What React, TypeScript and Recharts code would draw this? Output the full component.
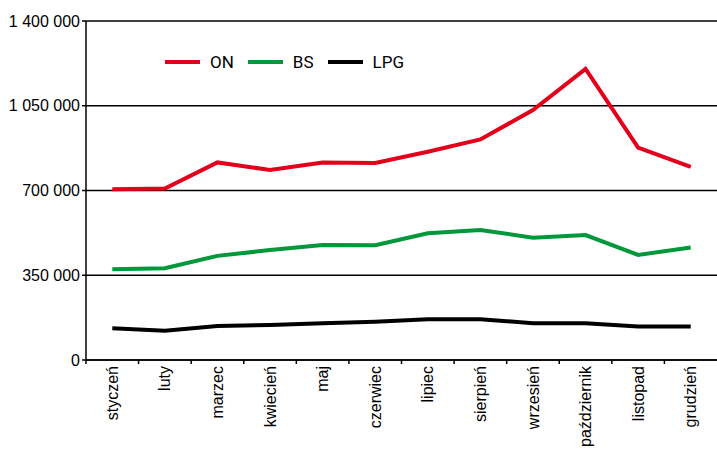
import { CartesianGrid, Legend, Line, LineChart, XAxis, YAxis } from 'recharts'

const months = [
  'styczeń', 'luty', 'marzec', 'kwiecień', 'maj', 'czerwiec',
  'lipiec', 'sierpień', 'wrzesień', 'październik', 'listopad', 'grudzień'
]

const onValues = [705000, 708000, 816000, 785000, 816000, 814000, 860000, 911000, 1032000, 1202000, 877000, 798000]
const bsValues = [375000, 379000, 430000, 454000, 475000, 474000, 523000, 537000, 505000, 516000, 434000, 465000]
const lpgValues = [131000, 121000, 140000, 145000, 152000, 158000, 168000, 168000, 152000, 152000, 138000, 138000]

const yTicks = [0, 350000, 700000, 1050000, 1400000]

const series = [
  { key: 'ON', color: '#e2001a' },
  { key: 'BS', color: '#00983a' },
  { key: 'LPG', color: '#000000' }
]

const data = months.map((month, i) => ({
  month,
  ON: onValues[i],
  BS: bsValues[i],
  LPG: lpgValues[i]
}))

const axisFont = '"Liberation Sans", Arial, sans-serif'

const formatThousands = (v: number) =>
  String(v).replace(/\B(?=(\d{3})+(?!\d))/g, ' ')

function MonthTick({ x, y, payload }: any) {
  // tick marks sit on the band edges, labels in the band centre
  const edge = x - (payload.offset ?? 0)
  return (
    <g>
      <line x1={edge} y1={y - 6} x2={edge} y2={y - 2} stroke='#000' strokeWidth={1.5} />
      <text
        x={x}
        y={y}
        transform={`rotate(-90, ${x}, ${y})`}
        textAnchor='end'
        dy='0.35em'
        fontSize={16}
        fontFamily={axisFont}
        fill='#000'
      >
        {payload.value}
      </text>
    </g>
  )
}

function LegendContent() {
  return (
    <div style={{ display: 'flex', alignItems: 'center', fontFamily: 'Roboto, sans-serif', fontSize: 17, color: '#000' }}>
      {series.map((s) => (
        <div key={s.key} style={{ display: 'flex', alignItems: 'center', marginRight: 14 }}>
          <div style={{ width: 35, height: 4, background: s.color, marginRight: 10 }} />
          <span>{s.key}</span>
        </div>
      ))}
    </div>
  )
}

export default function App() {
  return (
    <div style={{ position: 'absolute', left: 0, top: 0, background: '#fff' }}>
      <LineChart
        width={717}
        height={454}
        data={data}
        margin={{ top: 21, right: 0, left: 0, bottom: 0 }}
      >
        <CartesianGrid vertical={false} stroke='#000' strokeWidth={1.5} />
        <XAxis
          dataKey='month'
          scale='band'
          height={94}
          interval={0}
          tickSize={0}
          tickMargin={6}
          tickLine={false}
          axisLine={{ stroke: '#000', strokeWidth: 1.5 }}
          tick={<MonthTick />}
        />
        <YAxis
          width={86}
          domain={[0, 1400000]}
          ticks={yTicks}
          interval={0}
          tickSize={4}
          tickFormatter={formatThousands}
          axisLine={{ stroke: '#000', strokeWidth: 1.5 }}
          tickLine={{ stroke: '#000', strokeWidth: 1.5 }}
          tick={{ fill: '#000', fontSize: 16, fontFamily: axisFont }}
        />
        <Legend
          layout='horizontal'
          align='center'
          verticalAlign='middle'
          content={<LegendContent />}
          wrapperStyle={{ position: 'absolute', top: 52, left: 165, width: 'auto' }}
        />
        {series.map((s) => (
          <Line
            key={s.key}
            type='linear'
            dataKey={s.key}
            stroke={s.color}
            strokeWidth={4}
            dot={false}
            activeDot={false}
            isAnimationActive={false}
          />
        ))}
      </LineChart>
    </div>
  )
}
